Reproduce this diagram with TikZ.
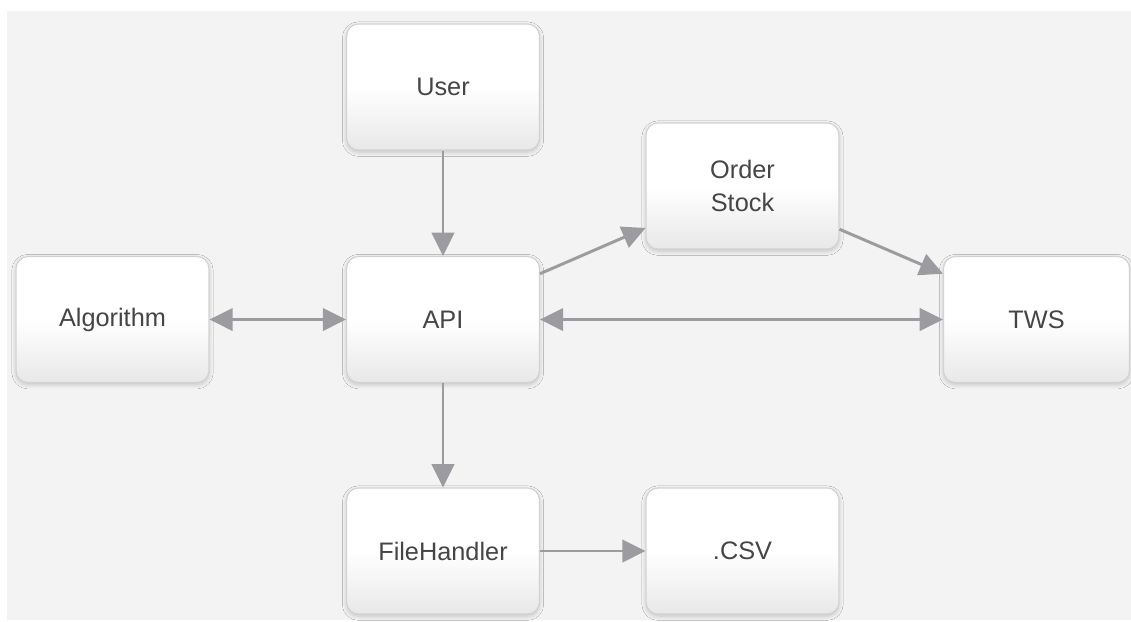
\documentclass[tikz,border=0pt]{standalone}
\usepackage{fontspec}
\setmainfont{Liberation Sans}
\usetikzlibrary{arrows.meta,shadows.blur,calc}
\definecolor{canvas}{HTML}{F3F3F3}
\definecolor{boxline}{HTML}{D2D2D2}
\definecolor{boxshade}{HTML}{E8E8E8}
\definecolor{linkgray}{HTML}{9C9CA0}
\definecolor{labelgray}{HTML}{454545}
\tikzset{
  block/.style={draw=boxline, line width=0.8pt, rounded corners=0.3cm,
    top color=white, bottom color=boxshade, middle color=white,
    minimum width=4.82cm, minimum height=3.15cm, inner sep=0pt,
    align=center, text=labelgray, font=\fontsize{18}{24}\selectfont,
    blur shadow={shadow xshift=0pt, shadow yshift=-1.5pt, shadow blur steps=6,
      shadow opacity=20, shadow blur radius=3pt}},
  link/.style={draw=linkgray, line width=2.1pt,
    -{Triangle[length=0.58cm,width=0.56cm]}},
  twoway/.style={link, {Triangle[length=0.58cm,width=0.56cm]}-{Triangle[length=0.58cm,width=0.56cm]}}
}
\begin{document}
\begin{tikzpicture}[x=0.025cm,y=-0.025cm]
  % page and canvas
  \fill[white] (0,0) rectangle (1131,621);
  \fill[canvas] (7,11) rectangle (1131,620);
  \useasboundingbox (0,0) rectangle (1131,621);

  % components
  \node[block] (user)  at (443,87)     {User};
  \node[block] (order) at (742.5,186)  {Order\\Stock};
  \node[block] (alg)   at (112.5,319.5) {Algorithm};
  \node[block] (api)   at (443,319.5)  {API};
  \node[block, minimum width=4.65cm] (tws) at (1036.5,319.5) {TWS};
  \node[block] (fh)    at (443,551)    {FileHandler};
  \node[block] (csv)   at (742.5,551)  {.CSV};

  % connections
  \draw[link] (user.south) -- (api.north);
  \draw[link] (api.south) -- (fh.north);
  \draw[twoway] (alg.east) -- (api.west);
  \draw[twoway] (api.east) -- (tws.west);
  \draw[link] (fh.east) -- (csv.west);
  \draw[link] ($(api.north east)!0.14!(api.south east)$) --
              ($(order.south west)!0.17!(order.north west)$);
  \draw[link] ($(order.south east)!0.16!(order.north east)$) --
              ($(tws.north west)!0.14!(tws.south west)$);
\end{tikzpicture}
\end{document}
